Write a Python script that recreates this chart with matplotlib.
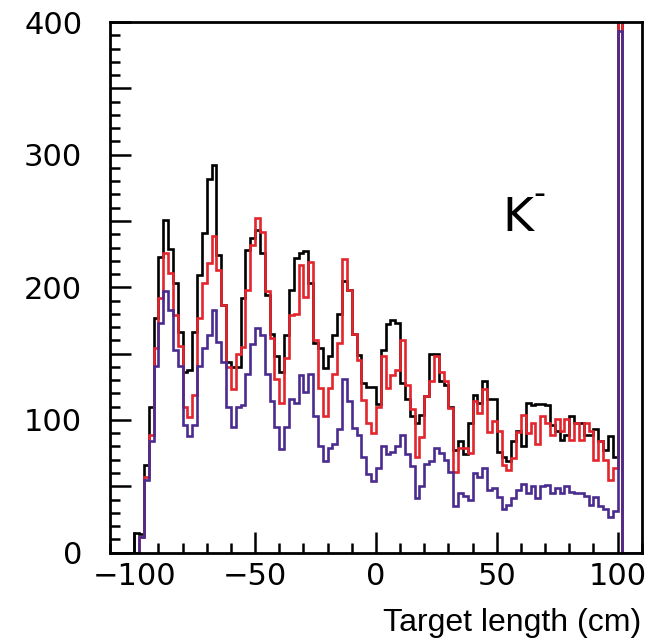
import numpy as np
import matplotlib
matplotlib.use("Agg")
import matplotlib.pyplot as plt
from matplotlib.ticker import MultipleLocator, FixedLocator

# bin lower edges: -100 ... 100 (2 cm bins)
bin_width = 2
first_edge = -100

black_counts = [15, 14, 66, 110, 177, 223, 251, 229, 203, 166,
                136, 138, 166, 209, 241, 282, 292, 224, 187, 144,
                140, 140, 192, 228, 237, 243, 226, 194, 165, 148,
                136, 164, 198, 222, 226, 227, 203, 158, 154, 139,
                148, 164, 180, 205, 198, 165, 149, 128, 125, 125,
                112, 153, 172, 175, 173, 128, 116, 103, 98, 104,
                118, 150, 150, 129, 126, 110, 77, 84, 74, 98,
                119, 113, 129, 116, 116, 76, 72, 69, 84, 92,
                80, 113, 111, 112, 112, 111, 96, 92, 85, 89,
                103, 98, 98, 89, 89, 93, 84, 77, 88, 72,
                410]

red_counts = [0, 12, 57, 89, 154, 192, 226, 211, 179, 156,
              110, 102, 119, 177, 203, 218, 239, 213, 187, 140,
              123, 150, 155, 198, 232, 252, 242, 197, 162, 131,
              113, 147, 179, 180, 217, 193, 219, 160, 124, 103,
              124, 135, 158, 221, 198, 165, 145, 115, 98, 90,
              110, 148, 124, 134, 138, 160, 126, 108, 72, 87,
              118, 129, 148, 136, 129, 109, 61, 79, 79, 75,
              114, 105, 123, 91, 99, 92, 66, 62, 71, 91,
              104, 90, 98, 82, 103, 98, 89, 101, 92, 101,
              85, 98, 85, 98, 92, 70, 84, 70, 55, 64,
              420]

purple_counts = [0, 12, 55, 84, 141, 173, 197, 183, 153, 141,
                 96, 88, 96, 141, 154, 164, 183, 159, 144, 110,
                 95, 110, 111, 135, 157, 169, 164, 135, 114, 95,
                 78, 95, 116, 113, 134, 121, 135, 103, 80, 69,
                 79, 82, 93, 131, 114, 94, 89, 72, 59, 54,
                 64, 80, 74, 76, 80, 89, 74, 65, 41, 50,
                 67, 69, 79, 75, 70, 61, 35, 45, 43, 40,
                 60, 57, 64, 47, 49, 42, 33, 36, 41, 47,
                 52, 45, 50, 41, 50, 51, 45, 49, 45, 50,
                 46, 45, 45, 43, 36, 42, 35, 33, 27, 31,
                 393]

x_ticklabels = ["\u2212100", "\u221250", "0", "50", "100"]
y_ticklabels = ["0", "", "100", "", "200", "", "300", "", "400"]

n = len(black_counts)
edges = first_edge + bin_width * np.arange(n + 1)
pad_lo = 5
pad_hi = 4
full_edges = np.concatenate([edges[0] - bin_width * np.arange(pad_lo, 0, -1), edges,
                             edges[-1] + bin_width * np.arange(1, pad_hi + 1)])

def padded(v):
    return np.concatenate([np.zeros(pad_lo), np.array(v, float), np.zeros(pad_hi)])

fig = plt.figure(figsize=(6.7, 6.4), dpi=100)
ax = fig.add_axes([110 / 670, 1 - 552.6 / 640, (641.7 - 110) / 670, (552.6 - 22) / 640])

lw = 1.9
ax.stairs(padded(black_counts), full_edges, color="black", lw=lw, baseline=0)
ax.stairs(padded(red_counts), full_edges, color="#e3262e", lw=lw, baseline=0)
ax.stairs(padded(purple_counts), full_edges, color="#4a2c8f", lw=lw, baseline=0)

ax.set_xlim(-110, 110)
ax.set_ylim(0, 400)

ax.xaxis.set_major_locator(FixedLocator([-100, -50, 0, 50, 100]))
ax.xaxis.set_minor_locator(MultipleLocator(10))
ax.set_xticklabels(x_ticklabels)
ax.yaxis.set_minor_locator(MultipleLocator(10))
ax.set_yticks([0, 50, 100, 150, 200, 250, 300, 350, 400])
ax.set_yticklabels(y_ticklabels)

ax.tick_params(axis="both", which="major", direction="in", length=15, width=1.8,
               labelsize=22, top=False, right=False)
ax.tick_params(axis="both", which="minor", direction="in", length=7.5, width=1.8,
               top=False, right=False)
ax.tick_params(axis="y", which="major", pad=20)
ax.tick_params(axis="x", which="major", pad=7)
for lab in ax.get_xticklabels() + ax.get_yticklabels():
    lab.set_fontfamily("DejaVu Sans")

for s in ax.spines.values():
    s.set_linewidth(2.0)

ax.text(0.768, 0.63, "K", transform=ax.transAxes, fontsize=34,
        ha="center", va="center", family="DejaVu Sans")
ax.text(0.808, 0.675, "-", transform=ax.transAxes, fontsize=24,
        ha="center", va="center", family="DejaVu Sans")

fig.text(641 / 670, 1 - 623 / 640, "Target length (cm)", ha="right", va="center",
         fontsize=23, family="Liberation Sans")

fig.savefig("out.png", dpi=100)
